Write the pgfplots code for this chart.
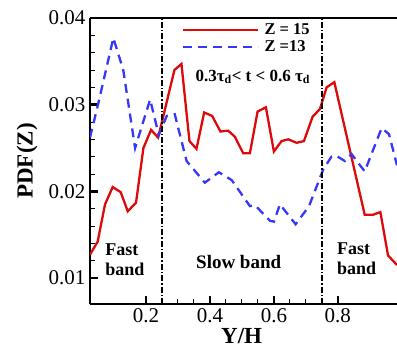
\documentclass[border=0pt]{standalone}
\usepackage{fontspec}
\setmainfont{Liberation Serif}
\usepackage{pgfplots}
\pgfplotsset{compat=1.18}
\usetikzlibrary{calc}
\definecolor{myred}{RGB}{220,10,10}
\definecolor{myblue}{RGB}{55,55,250}
\begin{document}
\begin{tikzpicture}
\begin{axis}[
  name=ax,
  scale only axis,
  width=307pt, height=286pt,
  xmin=0.025, xmax=0.985,
  ymin=0.007, ymax=0.04,
  scaled x ticks=false, scaled y ticks=false,
  separate axis lines,
  axis x line*=box,
  axis y line*=left,
  x axis line style={-, line width=1.3pt},
  y axis line style={-, line width=1.3pt},
  xtick pos=bottom, ytick pos=left,
  xtick={0.2,0.4,0.6,0.8},
  xticklabels={0.2,0.4,0.6,0.8},
  ytick={0.01,0.02,0.03,0.04},
  yticklabels={0.01,0.02,0.03,0.04},
  minor x tick num=3,
  minor y tick num=4,
  tick align=inside,
  major tick length=8pt,
  minor tick length=5pt,
  every major tick/.append style={line width=2.6pt, black},
  every minor tick/.append style={line width=1pt, black},
  ticklabel style={font=\rmfamily\fontsize{21}{25}\selectfont},
  xticklabel style={yshift=-1pt},
  yticklabel style={xshift=-1pt},
  xlabel={\textbf{Y/H}},
  ylabel={\textbf{PDF(Z)}},
  label style={font=\rmfamily\fontsize{23}{27}\selectfont},
  xlabel style={at={(axis description cs:0.494,-0.112)}, anchor=center},
  ylabel style={at={(axis description cs:-0.205,0.5)}, anchor=center},
  clip=true,
  legend image code/.code={\draw[#1] (0pt,0pt) -- (75pt,0pt);},
  legend style={draw=none, fill=none, at={(axis description cs:0.29,0.995)}, anchor=north west,
    font=\rmfamily\fontsize{16.5}{19}\selectfont\bfseries, row sep=1pt,
    nodes={inner xsep=5pt}},
  legend cell align=left,
]
\addplot[myred, line width=2.3pt] coordinates {
(0.025,0.0127) (0.049,0.0142) (0.072,0.0185) (0.096,0.0205) (0.121,0.0199)
(0.143,0.0177) (0.169,0.0187) (0.192,0.0250) (0.216,0.0271) (0.238,0.0262)
(0.259,0.0294) (0.289,0.0340) (0.311,0.0347) (0.336,0.0258) (0.358,0.0249)
(0.382,0.0291) (0.407,0.0287) (0.433,0.0269) (0.457,0.0270) (0.478,0.0263)
(0.504,0.0244) (0.525,0.0244) (0.549,0.0292) (0.575,0.0297) (0.600,0.0246)
(0.624,0.0258) (0.645,0.0260) (0.671,0.0256) (0.694,0.0258) (0.721,0.0286)
(0.744,0.0295) (0.765,0.0320) (0.789,0.0326) (0.884,0.0173) (0.910,0.0173)
(0.933,0.0176) (0.957,0.0126) (0.985,0.0115)
};
\addlegendentry{Z = 15}
\addplot[myblue, line width=2.3pt, dash pattern=on 9pt off 6pt] coordinates {
(0.025,0.0262) (0.050,0.0300) (0.098,0.0377) (0.129,0.0340) (0.166,0.0250)
(0.213,0.0306) (0.240,0.0265) (0.265,0.0287) (0.290,0.0289) (0.327,0.0235)
(0.384,0.0210) (0.428,0.0222) (0.468,0.0213) (0.525,0.0183) (0.541,0.0184)
(0.588,0.0166) (0.600,0.0165) (0.619,0.0185) (0.668,0.0162) (0.710,0.0183)
(0.754,0.0225) (0.780,0.0240) (0.795,0.0241) (0.822,0.0235) (0.843,0.0243)
(0.884,0.0223) (0.937,0.0273) (0.960,0.0266) (0.985,0.0230)
};
\addlegendentry{Z =13}
\addplot[black, line width=1.6pt, dash pattern=on 6pt off 2pt on 1.5pt off 2pt, forget plot] coordinates {(0.25,0.007) (0.25,0.04)};
\addplot[black, line width=1.6pt, dash pattern=on 6pt off 2pt on 1.5pt off 2pt, forget plot] coordinates {(0.75,0.007) (0.75,0.04)};
\node[font=\rmfamily\fontsize{17}{19}\selectfont\bfseries] at (axis cs:0.534,0.0332) {0.3τ\textsubscript{d}< t < 0.6 τ\textsubscript{d}};
\node[font=\rmfamily\fontsize{18}{20}\selectfont\bfseries, align=left] at (axis cs:0.134,0.0121) {Fast\\band};
\node[font=\rmfamily\fontsize{19}{21}\selectfont\bfseries] at (axis cs:0.49,0.0119) {Slow band};
\node[font=\rmfamily\fontsize{18}{20}\selectfont\bfseries, align=left] at (axis cs:0.859,0.0122) {Fast\\band};
\end{axis}
\pgfresetboundingbox
\path[use as bounding box] ($(ax.south west)+(-90pt,-44pt)$) rectangle ($(ax.north east)+(0pt,18pt)$);
\end{tikzpicture}
\end{document}
